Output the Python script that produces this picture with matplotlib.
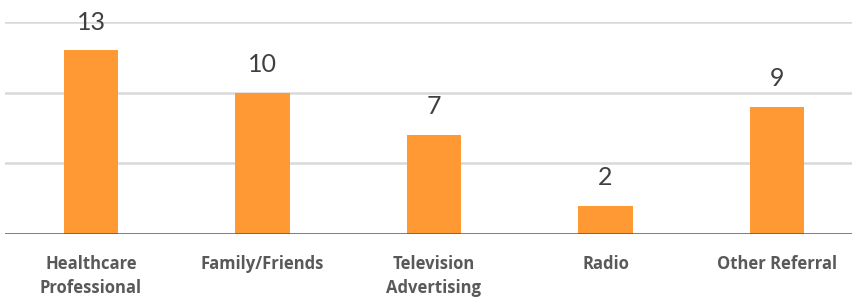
import matplotlib
matplotlib.use("Agg")
from matplotlib import pyplot as plt

categories = ['Healthcare\nProfessional', 'Family/Friends', 'Television\nAdvertising',
              'Radio', 'Other Referral']
counts = [13, 10, 7, 2, 9]
y_ticks = [0, 5, 10, 15]

plt.rcParams['font.family'] = ['Open Sans', 'DejaVu Sans']

dpi = 100
fig = plt.figure(figsize=(853 / dpi, 298 / dpi), dpi=dpi)
# axes spans a bit past the right edge, like the cropped original
ax = fig.add_axes([5.25 / 853, (298 - 234) / 298, 857.5 / 853, (234 - 22) / 298])

x = range(len(categories))
ax.bar(x, counts, width=0.315, color='#ff9933', zorder=3)
ax.set_xlim(-0.5, len(categories) - 0.5)
ax.set_ylim(0, 15)

for yv in y_ticks[1:]:
    ax.axhline(yv, color='#d9d9d9', linewidth=1.8, zorder=1)
ax.axhline(0, color='#0070c0', linewidth=1.8, zorder=4)

for xi, v in zip(x, counts):
    ax.annotate(str(v), (xi, v), xytext=(0, 12), textcoords='offset points',
                ha='center', va='bottom', fontsize=18, color='#404040',
                family=['Lato', 'DejaVu Sans'])

ax.set_xticks(list(x))
ax.set_xticklabels(categories, fontsize=12, fontweight='bold', color='#595959',
                   linespacing=1.45)
ax.tick_params(axis='x', length=0, pad=15)
ax.set_yticks([])
for s in ax.spines.values():
    s.set_visible(False)

fig.savefig('out.png', dpi=dpi)
